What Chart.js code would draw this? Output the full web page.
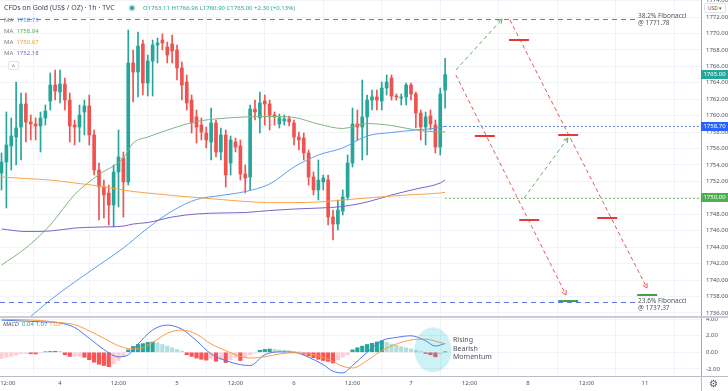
<!DOCTYPE html>
<html>
<head>
<meta charset="utf-8">
<title>CFDs on Gold 1h</title>
<script src="https://cdn.jsdelivr.net/npm/chart.js@4.4.1/dist/chart.umd.min.js"></script>
<style>
  body { margin: 0; background: #fff; }
  #wrap { position: relative; width: 728px; height: 391px; overflow: hidden; font-family: "Noto Sans", Roboto, sans-serif; color: #50535e; }
  canvas { position: absolute; left: 0; z-index: 2; }
  #main { top: 0; }
  #macd { top: 316px; }
  .txt { position: absolute; white-space: nowrap; line-height: 1; z-index: 3; }
  .tag { position: absolute; left: 701px; width: 27px; height: 9px; line-height: 9px; font-size: 6px; color: #fff; text-align: center; z-index: 4; }
</style>
</head>
<body>
<div id="wrap">
  <div class="txt" style="left:4px;top:4px;font-size:7px;color:#434651">CFDs on Gold (US$ / OZ) · 1h · TVC</div>
  <div class="txt" style="left:130px;top:6px;width:4px;height:4px;border-radius:50%;background:#26a69a;box-shadow:0 0 0 1.5px #bfe6e2"></div>
  <div class="txt" style="left:143px;top:5px;font-size:6px;color:#26a69a">O1763.11 H1766.96 L1760.90 C1765.00 +2.30 (+0.13%)</div>
  <div class="txt" style="left:4px;top:17px;font-size:6px"><span style="color:#787b86">MA</span>&nbsp; <span style="color:#4f8ff0">1758.73</span></div>
  <div class="txt" style="left:4px;top:28px;font-size:6px"><span style="color:#787b86">MA</span>&nbsp; <span style="color:#5aa85d">1758.04</span></div>
  <div class="txt" style="left:4px;top:39px;font-size:6px"><span style="color:#787b86">MA</span>&nbsp; <span style="color:#f39c3c">1750.67</span></div>
  <div class="txt" style="left:4px;top:50px;font-size:6px"><span style="color:#787b86">MA</span>&nbsp; <span style="color:#7e68c6">1752.18</span></div>
  <div class="txt" style="left:8px;top:61px;width:9px;height:7px;border:1px solid #e0e3eb;border-radius:2px;font-size:6px;text-align:center;line-height:8px;color:#50535e;background:#fff">^</div>
  <div class="txt" style="left:704px;top:3px;width:20px;height:8px;border:1px solid #e0e3eb;border-radius:2px;font-size:5px;text-align:center;line-height:8px;background:#fff;color:#50535e">USD ▾</div>
  <div class="txt" id="fibTop" style="left:638px;font-size:6.5px;line-height:7px;color:#50535e">38.2% Fibonacci<br>@ 1771.78</div>
  <div class="txt" id="fibBottom" style="left:638px;font-size:6.5px;line-height:7px;color:#50535e">23.6% Fibonacci<br>@ 1737.37</div>
  <div class="txt" style="left:3px;top:321px;font-size:6px"><i style="color:#50535e">MACD</i>&nbsp; <span style="color:#26a69a">0.04</span> <span style="color:#4a78ee">1.07</span> <span style="color:#ff9a3c">1.03</span></div>
  <div class="txt" style="left:453px;top:336px;font-size:7px;line-height:8.5px;color:#50535e">Rising<br>Bearish<br>Momentum</div>
  <div class="txt" style="left:709px;top:378px;font-size:10px;color:#50535e">⚙</div>
  <div class="tag" id="tagLast" style="background:#26a69a">1765.00</div>
  <div class="tag" id="tagBlue" style="background:#2962ff">1758.70</div>
  <div class="tag" id="tagGreen" style="background:#4caf50">1750.00</div>
  <canvas id="main" width="728" height="316"></canvas>
  <canvas id="macd" width="728" height="75"></canvas>
</div>
<script>
// hourly candles, bar index 0 = 12:00 on the 3rd
const candleOpen = [1753.02,1754.36,1756.31,1757.40,1758.62,1761.42,1759.23,1758.99,1758.74,1759.72,
  1761.78,1763.73,1762.88,1763.85,1761.90,1758.86,1758.62,1760.45,1761.18,1757.65,
  1753.39,1751.32,1750.59,1749.13,1753.15,1754.85,1751.93,1766.41,1765.31,1768.72,
  1763.97,1766.65,1768.60,1769.20,1768.35,1768.72,1767.99,1765.80,1764.09,1761.90,
  1759.84,1758.86,1757.89,1756.80,1759.11,1755.58,1757.65,1754.24,1756.80,1756.31,
  1752.90,1752.54,1760.81,1759.72,1761.78,1761.42,1760.08,1758.99,1759.35,1759.59,
  1759.11,1757.40,1757.28,1755.46,1752.54,1750.96,1751.93,1752.17,1747.67,1746.82,
  1748.40,1750.10,1754.24,1758.99,1758.62,1759.84,1761.90,1762.27,1761.78,1763.36,
  1764.58,1762.39,1762.15,1762.27,1763.73,1762.63,1760.32,1758.62,1759.96,1758.86,
  1756.19,1763.11];
const candleHigh = [1755.46,1760.45,1759.72,1764.09,1762.76,1762.76,1760.08,1759.72,1760.45,1761.30,
  1765.19,1765.55,1765.55,1764.58,1762.76,1759.47,1761.30,1761.90,1762.51,1758.26,
  1754.24,1752.17,1751.56,1754.00,1758.26,1755.58,1770.42,1767.99,1770.18,1769.20,
  1767.38,1769.20,1769.45,1769.93,1768.96,1769.81,1768.60,1766.53,1764.95,1762.51,
  1760.69,1759.72,1758.62,1760.93,1759.47,1758.50,1758.26,1757.53,1757.28,1757.04,
  1754.00,1761.30,1761.90,1762.88,1762.51,1761.90,1760.45,1760.20,1760.08,1759.96,
  1759.47,1758.01,1757.89,1755.82,1753.15,1754.61,1752.78,1752.78,1748.52,1749.74,
  1750.96,1755.21,1760.93,1760.69,1764.34,1762.51,1763.12,1763.12,1764.09,1764.95,
  1764.95,1762.63,1762.63,1763.97,1763.97,1762.88,1760.69,1760.45,1760.69,1759.47,
  1763.36,1766.96];
const candleLow = [1750.96,1748.77,1753.39,1754.00,1754.61,1756.80,1757.04,1757.04,1755.58,1758.86,
  1760.69,1761.90,1761.54,1760.69,1756.80,1756.43,1756.80,1757.65,1756.43,1752.78,
  1747.31,1747.55,1746.70,1746.46,1748.89,1747.67,1751.56,1761.66,1762.27,1762.51,
  1762.39,1762.39,1766.41,1767.99,1766.41,1766.41,1764.34,1761.90,1760.69,1757.89,
  1756.67,1757.04,1756.07,1754.61,1754.97,1754.61,1751.32,1752.78,1755.58,1752.17,
  1750.59,1750.96,1759.47,1757.89,1758.86,1758.26,1758.86,1758.50,1758.86,1758.74,
  1756.43,1755.82,1754.61,1751.56,1750.35,1749.74,1750.96,1746.70,1744.87,1746.09,
  1747.92,1749.74,1753.75,1757.04,1754.61,1755.21,1760.69,1760.69,1760.69,1762.51,
  1761.90,1761.90,1761.30,1761.30,1761.90,1758.50,1757.04,1756.43,1758.26,1755.46,
  1755.21,1760.90];
const candleClose = [1754.36,1756.43,1757.53,1758.50,1761.42,1759.23,1758.99,1758.74,1759.72,1760.57,
  1763.73,1763.00,1763.85,1761.90,1758.74,1758.62,1760.08,1761.18,1757.65,1753.39,
  1751.32,1750.35,1749.13,1753.15,1754.97,1751.93,1766.41,1765.31,1768.47,1763.97,
  1766.65,1768.60,1768.84,1768.84,1767.38,1767.87,1765.80,1763.73,1761.54,1759.11,
  1758.62,1758.01,1757.04,1759.11,1755.58,1757.65,1752.78,1757.04,1756.19,1752.90,
  1752.42,1760.81,1760.45,1761.54,1761.42,1760.08,1759.84,1759.72,1759.59,1759.23,
  1757.40,1757.04,1755.46,1752.54,1750.96,1752.17,1752.42,1747.67,1746.82,1748.52,
  1750.10,1754.24,1758.99,1758.62,1759.84,1761.90,1762.27,1761.90,1763.36,1764.09,
  1762.39,1762.27,1762.27,1763.73,1762.63,1760.32,1758.62,1759.84,1758.99,1756.19,
  1762.63,1765.00];

// moving averages, read at these bars
const maBars = [0,5,10,15,20,25,27,30,35,40,45,50,55,60,65,70,75,80,85,90,91];
const maBlue = [1733.32,1735.14,1737.57,1739.76,1741.83,1743.90,1744.87,1746.33,1748.40,1749.80,1750.29,
  1750.77,1751.69,1753.75,1755.21,1756.07,1757.53,1757.95,1758.26,1758.56,1758.73];
const maGreen = [1741.83,1743.90,1746.70,1750.40,1752.84,1754.85,1756.67,1757.40,1758.44,1759.29,1759.65,
  1759.84,1759.90,1759.78,1758.98,1758.44,1759.04,1758.80,1758.26,1758.01,1758.04];
const maOrange = [1752.54,1752.35,1752.17,1751.81,1751.44,1750.95,1750.77,1750.59,1750.29,1750.04,1749.80,
  1749.56,1749.43,1749.43,1749.49,1749.74,1749.98,1750.22,1750.41,1750.59,1750.67];
const maPurple = [1746.21,1745.91,1745.97,1746.33,1746.45,1746.57,1746.82,1747.00,1747.67,1748.04,1748.16,
  1748.22,1748.46,1748.64,1748.76,1748.95,1749.50,1750.35,1751.08,1751.81,1752.18];

// MACD
const macdHist = [-0.75,-0.6,-0.5,-0.35,-0.15,-0.15,-0.18,-0.2,-0.1,0.05,0.1,0.12,0.1,
  -0.3,-0.5,-0.5,-0.45,-0.6,-0.9,-1.2,-1.45,-1.6,-1.75,-1.4,-1.0,-0.5,
  0.3,0.7,0.95,1.05,1.2,1.25,1.15,0.95,0.75,0.55,0.35,0.15,
  -0.3,-0.5,-0.7,-0.85,-0.95,-0.8,-1.1,-0.9,-1.25,-0.9,-0.6,-1.0,-0.6,-0.3,-0.1,
  0.25,0.35,0.4,0.35,0.3,0.25,0.2,0.1,0.03,
  -0.25,-0.45,-0.65,-0.85,-1.0,-1.1,-1.3,-0.9,-0.6,-0.3,
  0.3,0.55,0.75,0.95,1.1,1.25,1.4,1.2,1.0,0.85,0.7,0.55,0.4,0.25,0.1,
  -0.15,-0.3,-0.55,-0.2,0.04];
const macdBars = [0,4,8,12,15,18,21,24,26,28,31,34,37,40,43,46,49,51,54,57,60,63,66,68,70,72,75,78,81,84,87,89,91];
const macdLine = [3.9,3.8,3.7,3.55,3.0,1.7,0.35,-0.55,-0.3,1.0,2.7,3.3,2.8,1.4,-0.2,-1.0,-1.5,-1.6,-0.3,0.05,0.0,
  -0.6,-1.5,-2.3,-2.5,-1.6,0.0,1.4,1.8,2.0,1.4,0.75,1.07];
const signalLine = [4.0,3.95,3.85,3.6,3.35,2.6,1.7,0.8,0.45,0.4,1.2,2.3,2.7,2.2,1.0,0.2,-0.5,-0.7,-0.55,-0.2,-0.05,
  -0.2,-0.6,-1.1,-1.7,-1.9,-1.0,0.2,1.0,1.5,1.6,1.35,1.03];

// axes
const dayTickBars = [1.3,12,24,36,48,60,72,84,96,108,120,132];
const dayTickLabels = ["12:00","4","12:00","5","12:00","6","12:00","7","12:00","8","12:00","11"];
const priceTicks = [1736,1738,1740,1742,1744,1746,1748,1750,1752,1754,1756,1758,1760,1762,1764,1766,1768,1770,1772,1774];
const macdTicks = [-2,0,2,4];

// drawings on the price pane (bar index, price)
const fibLevels = [1771.78, 1737.37];
const blueLevel = 1758.70;
const greenLevel = 1750.00;
const lastPrice = 1765.00;
const projections = [
  { kind: 'up', from: [93.2, 1765.55], to: [102.7, 1771.76] },
  { kind: 'down', from: [93.2, 1764.95], to: [115.8, 1738.18] },
  { kind: 'down', from: [104.3, 1771.64], to: [132.4, 1739.03] },
  { kind: 'up', from: [107.2, 1749.98], to: [116.2, 1757.28] }
];
const targets = [
  { kind: 'down', bars: [104.1, 108.2], price: 1769.2 },
  { kind: 'down', bars: [97.1, 101.2], price: 1757.52 },
  { kind: 'down', bars: [114.2, 118.3], price: 1757.6 },
  { kind: 'down', bars: [106.2, 110.3], price: 1747.3 },
  { kind: 'down', bars: [122.2, 126.3], price: 1747.6 },
  { kind: 'up', bars: [114.2, 118.3], price: 1737.45 },
  { kind: 'up', bars: [130.4, 134.5], price: 1738.2 }
];

const FONT = '"Noto Sans", Roboto, sans-serif';
const UP = '#26a69a', DOWN = '#ef5350';
const X_MIN = -0.31, X_MAX = 143.49;
const GRID = '#f0f3fa';

const candleColors = candleOpen.map((o, i) => candleClose[i] >= o ? UP : DOWN);
const wickData = candleOpen.map((o, i) => ({ x: i, y: [candleLow[i], candleHigh[i]] }));
const bodyData = candleOpen.map((o, i) => ({ x: i, y: [o, candleClose[i]] }));

const lineSet = (bars, vals, color) => ({
  type: 'line',
  data: bars.map((b, k) => ({ x: b, y: vals[k] })),
  borderColor: color,
  borderWidth: 1,
  pointRadius: 0,
  cubicInterpolationMode: 'monotone',
  order: 0
});

// keep the plot edge-to-edge: no room reserved for half tick labels
const noPad = s => { s.paddingTop = 0; s.paddingBottom = 0; s.paddingLeft = 0; s.paddingRight = 0; };

const arrowHead = (ctx, x1, y1, x2, y2) => {
  const a = Math.atan2(y2 - y1, x2 - x1);
  const len = 5;
  ctx.beginPath();
  ctx.moveTo(x2 - len * Math.cos(a - 0.5), y2 - len * Math.sin(a - 0.5));
  ctx.lineTo(x2, y2);
  ctx.lineTo(x2 - len * Math.cos(a + 0.5), y2 - len * Math.sin(a + 0.5));
  ctx.stroke();
};

const drawings = {
  id: 'drawings',
  afterDatasetsDraw(chart) {
    const { ctx, chartArea } = chart;
    const x = chart.scales.x, y = chart.scales.y;
    ctx.save();
    ctx.lineWidth = 1;

    // fibonacci levels
    ctx.strokeStyle = '#5c77ec';
    ctx.setLineDash([5, 4]);
    fibLevels.forEach(p => {
      const py = Math.round(y.getPixelForValue(p)) + 0.5;
      ctx.beginPath();
      ctx.moveTo(chartArea.left, py);
      ctx.lineTo(x.getPixelForValue(130), py);
      ctx.stroke();
    });

    // dotted levels
    ctx.setLineDash([1.5, 2.5]);
    [[blueLevel, '#2962ff'], [greenLevel, '#4caf50']].forEach(([p, c]) => {
      const py = Math.round(y.getPixelForValue(p)) + 0.5;
      ctx.strokeStyle = c;
      ctx.beginPath();
      ctx.moveTo(x.getPixelForValue(91), py);
      ctx.lineTo(chartArea.right, py);
      ctx.stroke();
    });

    // projected path
    projections.forEach(pr => {
      const x1 = x.getPixelForValue(pr.from[0]), y1 = y.getPixelForValue(pr.from[1]);
      const x2 = x.getPixelForValue(pr.to[0]), y2 = y.getPixelForValue(pr.to[1]);
      ctx.strokeStyle = pr.kind === 'up' ? '#5fae62' : '#e25a5a';
      ctx.setLineDash([4, 3]);
      ctx.beginPath();
      ctx.moveTo(x1, y1);
      ctx.lineTo(x2, y2);
      ctx.stroke();
      ctx.setLineDash([]);
      arrowHead(ctx, x1, y1, x2, y2);
    });

    // target marks
    ctx.setLineDash([]);
    ctx.lineWidth = 2;
    targets.forEach(t => {
      const py = Math.round(y.getPixelForValue(t.price));
      ctx.strokeStyle = t.kind === 'up' ? '#43a047' : '#e53935';
      ctx.beginPath();
      ctx.moveTo(x.getPixelForValue(t.bars[0]), py);
      ctx.lineTo(x.getPixelForValue(t.bars[1]), py);
      ctx.stroke();
    });
    ctx.restore();
  }
};

const mainChart = new Chart(document.getElementById('main'), {
  type: 'bar',
  data: {
    datasets: [
      { data: wickData, backgroundColor: candleColors, barThickness: 1, grouped: false, order: 3 },
      { data: bodyData, backgroundColor: candleColors, barThickness: 3, grouped: false, minBarLength: 1, order: 2 },
      lineSet(maBars, maOrange, '#f6a54a'),
      lineSet(maBars, maPurple, '#7a64c8'),
      lineSet(maBars, maGreen, '#80b482'),
      lineSet(maBars, maBlue, '#5b9ef0')
    ]
  },
  options: {
    responsive: false,
    animation: false,
    events: [],
    layout: { padding: 0 },
    plugins: { legend: { display: false }, tooltip: { enabled: false } },
    scales: {
      x: {
        type: 'linear', min: X_MIN, max: X_MAX, offset: false,
        afterBuildTicks: s => { s.ticks = dayTickBars.map(v => ({ value: v })); },
        afterFit: s => { s.height = 0; noPad(s); },
        ticks: { display: false },
        grid: { color: GRID, drawTicks: false },
        border: { display: false }
      },
      y: {
        position: 'right', min: 1735.63, max: 1774.07,
        afterBuildTicks: s => { s.ticks = priceTicks.map(v => ({ value: v })); },
        afterFit: s => { s.width = 27; noPad(s); },
        ticks: { autoSkip: false, font: { size: 6, family: FONT }, color: '#50535e', padding: 5,
          callback: v => v.toFixed(2) },
        grid: { color: GRID, drawTicks: false },
        border: { color: '#a3a6af' }
      }
    }
  },
  plugins: [drawings]
});

const histColors = macdHist.map((v, i) => {
  const prev = i > 0 ? macdHist[i - 1] : v;
  if (v >= 0) return v >= prev ? '#26a69a' : '#b2dfdb';
  return v < prev ? '#ff5252' : '#ffcdd2';
});

const macdFrame = {
  id: 'macdFrame',
  beforeDatasetsDraw(chart) {
    const { ctx } = chart;
    ctx.save();
    ctx.fillStyle = '#c9ccd4';
    ctx.fillRect(0, 0, chart.width, 2);
    ctx.restore();
  },
  afterDatasetsDraw(chart) {
    const { ctx, chartArea } = chart;
    const x = chart.scales.x, y = chart.scales.y;
    ctx.save();
    // highlight round the last swing
    const cx = x.getPixelForValue(88.5), cy = y.getPixelForValue(0.3);
    ctx.fillStyle = 'rgba(0, 188, 212, 0.2)';
    ctx.beginPath();
    ctx.ellipse(cx, cy, 18.5, 22.5, 0, 0, Math.PI * 2);
    ctx.fill();
    // frame lines
    ctx.strokeStyle = '#b8bbc4';
    ctx.lineWidth = 1;
    ctx.beginPath();
    ctx.moveTo(0, chartArea.bottom + 0.5);
    ctx.lineTo(chart.width, chartArea.bottom + 0.5);
    ctx.moveTo(chartArea.right + 0.5, chartArea.bottom);
    ctx.lineTo(chartArea.right + 0.5, chart.height);
    ctx.stroke();
    ctx.restore();
  }
};

const macdChart = new Chart(document.getElementById('macd'), {
  type: 'bar',
  data: {
    datasets: [
      { data: macdHist.map((v, i) => ({ x: i, y: v })), backgroundColor: histColors, barThickness: 3.5, order: 2 },
      lineSet(macdBars, signalLine, '#ff9a3c'),
      lineSet(macdBars, macdLine, '#4a78ee')
    ]
  },
  options: {
    responsive: false,
    animation: false,
    events: [],
    layout: { padding: { top: 2 } },
    plugins: { legend: { display: false }, tooltip: { enabled: false } },
    scales: {
      x: {
        type: 'linear', min: X_MIN, max: X_MAX, offset: false,
        afterBuildTicks: s => { s.ticks = dayTickBars.map(v => ({ value: v })); },
        afterFit: s => { s.height = 15; noPad(s); },
        ticks: { autoSkip: false, maxRotation: 0, font: { size: 6, family: FONT }, color: '#50535e', padding: 4,
          callback: v => dayTickLabels[dayTickBars.indexOf(v)] },
        grid: { color: GRID, drawTicks: false },
        border: { display: false }
      },
      y: {
        position: 'right', min: -2.873, max: 4.157,
        afterBuildTicks: s => { s.ticks = macdTicks.map(v => ({ value: v })); },
        afterFit: s => { s.width = 27; noPad(s); },
        ticks: { autoSkip: false, font: { size: 6, family: FONT }, color: '#50535e', padding: 5,
          callback: v => v.toFixed(2) },
        grid: { color: GRID, drawTicks: false },
        border: { color: '#a3a6af' }
      }
    }
  },
  plugins: [macdFrame]
});

// tags and labels tied to the price scale
const py = p => mainChart.scales.y.getPixelForValue(p);
document.getElementById('tagLast').style.top = (py(lastPrice) - 4.5) + 'px';
document.getElementById('tagBlue').style.top = (py(blueLevel) - 4.5) + 'px';
document.getElementById('tagGreen').style.top = (py(greenLevel) - 4.5) + 'px';
document.getElementById('fibTop').style.top = (py(fibLevels[0]) - 7) + 'px';
document.getElementById('fibBottom').style.top = (py(fibLevels[1]) - 5) + 'px';
</script>
</body>
</html>
